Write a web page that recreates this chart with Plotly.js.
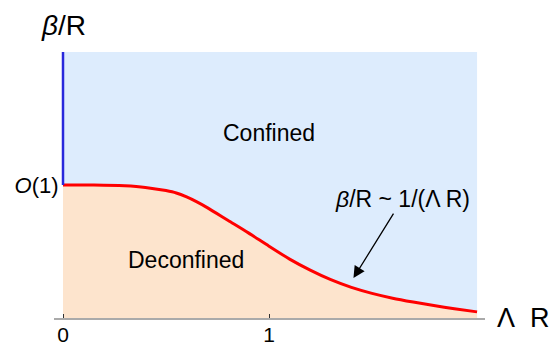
<!DOCTYPE html>
<html>
<head>
<meta charset="utf-8">
<script src="https://cdn.plot.ly/plotly-3.0.1.min.js"></script>
<style>html,body{margin:0;padding:0;background:#fff;}#chart{width:554px;height:347px;}</style>
</head>
<body>
<div id="chart"></div>
<script>
// Phase boundary beta/R as a function of Lambda R
const lambdaR = [0, 0.15, 0.3, 0.4, 0.5, 0.55, 0.6, 0.65, 0.7, 0.8, 0.9, 1.0, 1.1, 1.2, 1.3, 1.4, 1.5, 1.6, 1.7, 1.8, 1.9, 2.01];
const betaR   = [1, 1, 0.994, 0.982, 0.958, 0.94, 0.91, 0.873, 0.83, 0.735, 0.64, 0.54, 0.443, 0.36, 0.288, 0.23, 0.185, 0.149, 0.12, 0.094, 0.07, 0.046];
// Confined region extent
const regionX = [0, 2.01];
const regionTop = [2, 2];
// Blue segment on the beta/R axis above O(1)
const axisSegX = [0, 0];
const axisSegY = [1, 2];
// Ticks
const xTickVals = [0, 1];
const xTickText = ['0', '1'];
const yTickVals = [1];
const yTickText = ['<i>O</i>(1)'];

const FONT = 'Liberation Sans, Arial, sans-serif';
const xr = [-0.0437, 2.0485];

const traces = [
  {x: regionX, y: regionTop, mode: 'lines', line: {width: 0}, fill: 'tozeroy',
   fillcolor: 'rgb(221,236,253)', hoverinfo: 'skip', showlegend: false},
  {x: lambdaR, y: betaR, mode: 'lines', line: {color: '#ff0000', width: 3, shape: 'spline', smoothing: 0.8}, fill: 'tozeroy',
   fillcolor: 'rgb(253,228,205)', hoverinfo: 'skip', showlegend: false},
  {x: axisSegX, y: axisSegY, mode: 'lines', line: {color: 'rgb(40,40,220)', width: 2.5},
   hoverinfo: 'skip', showlegend: false}
];

const layout = {
  width: 554, height: 347,
  margin: {l: 54, r: 69, t: 52, b: 29},
  paper_bgcolor: '#fff', plot_bgcolor: '#fff',
  font: {family: FONT, size: 23, color: '#000'},
  showlegend: false,
  xaxis: {range: xr, showgrid: false, zeroline: false, showline: true, linecolor: '#aaa', linewidth: 1.5,
          tickvals: xTickVals, ticktext: xTickText, ticks: 'inside', ticklen: 4, tickcolor: '#333', tickwidth: 1,
          ticklabelstandoff: -3,
          tickfont: {family: FONT, size: 21, color: '#000'}, fixedrange: true},
  yaxis: {range: [0, 2], anchor: 'free', position: (0 - xr[0]) / (xr[1] - xr[0]),
          showgrid: false, zeroline: false, showline: true, linecolor: '#aaa', linewidth: 1.5, layer: 'below traces',
          tickvals: yTickVals, ticktext: yTickText, ticks: '', tickfont: {family: FONT, size: 22, color: '#000'},
          fixedrange: true},
  annotations: [
    {x: 1.0, y: 1.39, xref: 'x', yref: 'y', text: 'Confined', showarrow: false, font: {family: FONT, size: 23}},
    {x: 0.597, y: 0.436, xref: 'x', yref: 'y', text: 'Deconfined', showarrow: false, font: {family: FONT, size: 23}},
    {x: 1.41, y: 0.3, xref: 'x', yref: 'y', text: '<i>β</i>/R ~ 1/(Λ R)', showarrow: true,
     ax: 49, ay: -79, arrowhead: 2, arrowsize: 1.8, arrowwidth: 1.3, arrowcolor: '#000',
     font: {family: FONT, size: 23}},
    {x: 1, y: 0, xref: 'paper', yref: 'y', xanchor: 'left', yanchor: 'middle', xshift: 10,
     text: 'Λ&nbsp;&nbsp;R', showarrow: false, font: {family: FONT, size: 27}},
    {x: 0, y: 1, xref: 'x', yref: 'paper', xanchor: 'center', yanchor: 'middle', yshift: 27,
     text: '<i>β</i>/R', showarrow: false, font: {family: FONT, size: 28}}
  ]
};

Plotly.newPlot('chart', traces, layout, {staticPlot: true, displayModeBar: false});
</script>
</body>
</html>
